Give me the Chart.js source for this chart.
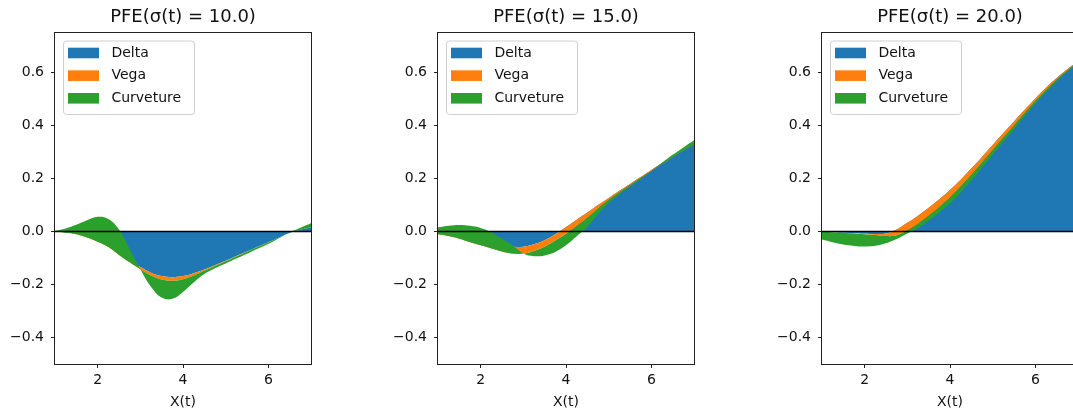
<!DOCTYPE html>
<html>
<head>
<meta charset="utf-8">
<script src="https://cdn.jsdelivr.net/npm/chart.js@4.4.1/dist/chart.umd.min.js"></script>
<style>
html, body { margin:0; padding:0; background:#ffffff; overflow:hidden; width:1073px; height:416px; position:relative; }
.panel { position:absolute; top:0; width:366px; height:416px; }
canvas { display:block; }
</style>
</head>
<body>
<div class="panel" style="left:0px"><canvas id="c0" width="366" height="416"></canvas></div>
<div class="panel" style="left:383px"><canvas id="c1" width="366" height="416"></canvas></div>
<div class="panel" style="left:767px"><canvas id="c2" width="366" height="416"></canvas></div>
<script>
// ---- data ----
const xValues = [1.00,1.25,1.50,1.75,2.00,2.25,2.50,2.75,3.00,3.25,3.50,3.75,4.00,4.25,4.50,4.75,5.00,5.25,5.50,5.75,6.00,6.25,6.50,6.75,7.00];

const titles = ['PFE(\u03c3(t) = 10.0)', 'PFE(\u03c3(t) = 15.0)', 'PFE(\u03c3(t) = 20.0)'];
const seriesNames = ['Delta', 'Vega', 'Curveture'];
const xTicks = [2, 4, 6];
const yTicks = [-0.4, -0.2, 0.0, 0.2, 0.4, 0.6];
const xLabel = 'X(t)';

// sigma = 10
const delta10 = [0.000,-0.003,-0.008,-0.019,-0.034,-0.053,-0.082,-0.109,-0.134,-0.155,-0.168,-0.172,-0.168,-0.157,-0.143,-0.127,-0.110,-0.092,-0.075,-0.057,-0.040,-0.022,-0.004,0.007,0.016];
const vega10  = [-0.001,-0.001,-0.002,-0.003,-0.004,-0.005,-0.006,-0.007,-0.008,-0.011,-0.013,-0.014,-0.012,-0.009,-0.005,-0.003,-0.002,-0.002,-0.001,-0.001,-0.001,0.000,0.000,0.000,0.000];
const curv10  = [0.004,0.016,0.036,0.065,0.094,0.106,0.096,0.050,0.000,-0.042,-0.068,-0.068,-0.048,-0.026,-0.012,-0.008,-0.008,-0.008,-0.008,-0.007,-0.006,-0.003,0.002,0.008,0.016];

// sigma = 15
const delta15 = [-0.002,-0.006,-0.012,-0.020,-0.030,-0.041,-0.051,-0.057,-0.057,-0.048,-0.033,-0.010,0.017,0.045,0.072,0.100,0.127,0.154,0.180,0.206,0.233,0.259,0.285,0.310,0.334];
const vega15  = [-0.008,-0.011,-0.015,-0.020,-0.022,-0.023,-0.024,-0.026,-0.026,-0.025,-0.024,-0.024,-0.025,-0.025,-0.021,-0.014,-0.008,-0.006,-0.005,-0.004,-0.004,-0.004,-0.004,-0.004,-0.004];
const curv15  = [0.026,0.039,0.052,0.062,0.066,0.062,0.048,0.031,0.000,-0.020,-0.033,-0.043,-0.044,-0.038,-0.033,-0.020,-0.011,-0.008,-0.006,-0.004,0.000,0.005,0.009,0.012,0.015];

// sigma = 20
const delta20 = [0.000,-0.002,-0.004,-0.006,-0.008,-0.009,-0.007,0.008,0.033,0.060,0.090,0.122,0.157,0.196,0.238,0.282,0.327,0.372,0.416,0.460,0.503,0.543,0.580,0.613,0.643];
const vega20  = [0.000,0.000,0.000,-0.001,-0.002,-0.004,-0.010,-0.022,-0.028,-0.030,-0.030,-0.029,-0.028,-0.026,-0.024,-0.022,-0.020,-0.018,-0.016,-0.013,-0.011,-0.009,-0.007,-0.005,-0.004];
const curv20  = [-0.030,-0.038,-0.045,-0.047,-0.046,-0.040,-0.027,-0.014,-0.012,-0.016,-0.019,-0.021,-0.022,-0.022,-0.021,-0.019,-0.017,-0.015,-0.013,-0.011,-0.009,-0.007,-0.005,-0.004,-0.003];

const seriesColors = ['#1f77b4', '#ff7f0e', '#2ca02c'];

// ---- drawing ----
Chart.defaults.font.family = "'DejaVu Sans', sans-serif";
const TEXT = '#111111';
const AXIS = '#222222';

const decor = {
  id: 'decor',
  afterDatasetsDraw(chart) {
    const ctx = chart.ctx, a = chart.chartArea, ys = chart.scales.y;
    const y0 = ys.getPixelForValue(0);
    ctx.save();
    ctx.strokeStyle = '#000000';
    ctx.lineWidth = 1.5;
    ctx.beginPath();
    ctx.moveTo(a.left, y0);
    ctx.lineTo(a.right, y0);
    ctx.stroke();
    ctx.restore();
  },
  afterDraw(chart) {
    const ctx = chart.ctx, a = chart.chartArea;
    ctx.save();
    // legend
    const lx = a.left + 8, ly = a.top + 7.5, lw = 131, lh = 73.5;
    ctx.beginPath();
    if (ctx.roundRect) ctx.roundRect(lx + 0.5, ly + 0.5, lw, lh, 3); else ctx.rect(lx + 0.5, ly + 0.5, lw, lh);
    ctx.fillStyle = 'rgba(255,255,255,0.8)';
    ctx.fill();
    ctx.strokeStyle = '#d0d0d0';
    ctx.lineWidth = 1;
    ctx.stroke();
    ctx.font = "14px 'DejaVu Sans'";
    ctx.textBaseline = 'middle';
    ctx.textAlign = 'left';
    chart.data.datasets.forEach((ds, i) => {
      const cy = ly + 12.5 + i * 22.65;
      ctx.fillStyle = ds.backgroundColor;
      ctx.fillRect(lx + 5, cy - 5.3, 31, 10.6);
      ctx.fillStyle = TEXT;
      ctx.fillText(ds.label, lx + 48.4, cy);
    });
    // spines
    ctx.strokeStyle = AXIS;
    ctx.lineWidth = 1;
    ctx.strokeRect(a.left - 0.5, a.top - 0.5, a.right - a.left + 1, a.bottom - a.top + 1);
    ctx.restore();
  }
};

function makeChart(id, title, delta, vega, curv) {
  const b1 = delta.slice();
  const b2 = delta.map((d, i) => d + vega[i]);
  const b3 = b2.map((v, i) => v + curv[i]);
  const pts = arr => xValues.map((x, i) => ({ x: x, y: arr[i] }));
  const common = { pointRadius: 0, pointHoverRadius: 0, borderWidth: 0, borderColor: 'rgba(0,0,0,0)', tension: 0.4 };
  const tickFont = { family: "'DejaVu Sans'", size: 14 };
  new Chart(document.getElementById(id), {
    type: 'line',
    data: {
      datasets: [
        Object.assign({}, common, { label: seriesNames[0], data: pts(b1), backgroundColor: seriesColors[0], fill: 'origin', order: 3 }),
        Object.assign({}, common, { label: seriesNames[1], data: pts(b2), backgroundColor: seriesColors[1], fill: '-1', order: 2 }),
        Object.assign({}, common, { label: seriesNames[2], data: pts(b3), backgroundColor: seriesColors[2], fill: '-1', order: 1 })
      ]
    },
    options: {
      responsive: false,
      animation: false,
      devicePixelRatio: 1,
      events: [],
      layout: { padding: { left: 0, right: 55, top: 0, bottom: 0 } },
      plugins: {
        legend: { display: false },
        tooltip: { enabled: false },
        title: {
          display: true, text: title, fullSize: false, color: TEXT,
          font: { family: "'DejaVu Sans'", size: 18, weight: 'normal', lineHeight: 1.2 },
          padding: { top: 6.5, bottom: 4.9 }
        }
      },
      scales: {
        x: {
          type: 'linear', min: 1, max: 7,
          afterBuildTicks: s => { s.ticks = xTicks.map(v => ({ value: v })); },
          afterFit: s => { s.height = 52; s.paddingLeft = 0; s.paddingRight = 0; },
          grid: { display: true, drawOnChartArea: false, drawTicks: true, tickLength: 4, color: AXIS, lineWidth: 1 },
          border: { display: false },
          ticks: { color: TEXT, font: tickFont, padding: 4, maxRotation: 0, autoSkip: false, callback: v => String(v) },
          title: { display: true, text: xLabel, color: TEXT, font: tickFont, padding: { top: 0, bottom: 5 } }
        },
        y: {
          type: 'linear', min: -0.5, max: 0.75,
          afterBuildTicks: s => { s.ticks = yTicks.map(v => ({ value: v })); },
          afterFit: s => { s.width = 55; s.paddingTop = 0; s.paddingBottom = 0; },
          grid: { display: true, drawOnChartArea: false, drawTicks: true, tickLength: 4, color: AXIS, lineWidth: 1 },
          border: { display: false },
          ticks: { color: TEXT, font: tickFont, padding: 7, autoSkip: false,
            callback: v => (v < 0 ? '\u2212' : '') + Math.abs(v).toFixed(1) }
        }
      }
    },
    plugins: [decor]
  });
}

makeChart('c0', titles[0], delta10, vega10, curv10);
makeChart('c1', titles[1], delta15, vega15, curv15);
makeChart('c2', titles[2], delta20, vega20, curv20);
</script>
</body>
</html>
